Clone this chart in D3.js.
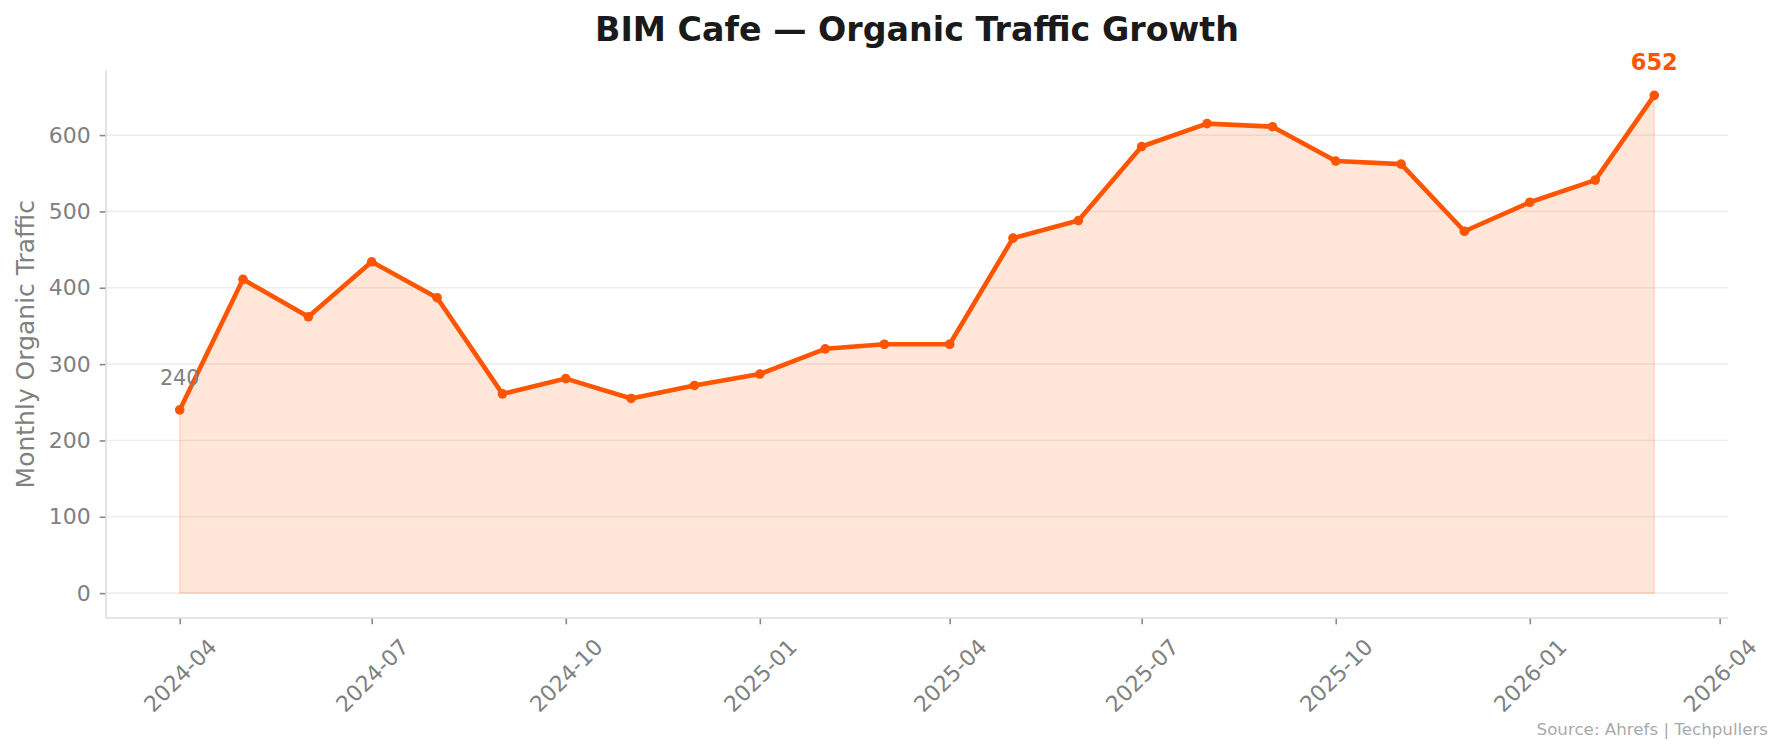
<!DOCTYPE html>
<html>
<head>
<meta charset="utf-8">
<script src="https://cdn.jsdelivr.net/npm/d3@7"></script>
<style>
  html, body { margin: 0; padding: 0; background: #ffffff; }
  svg { display: block; font-family: "DejaVu Sans", sans-serif; }
</style>
</head>
<body>
<svg id="chart" width="1784" height="753"></svg>
<script>
// ---- data ----
const months = ["2024-04","2024-05","2024-06","2024-07","2024-08","2024-09","2024-10","2024-11","2024-12",
  "2025-01","2025-02","2025-03","2025-04","2025-05","2025-06","2025-07","2025-08","2025-09","2025-10",
  "2025-11","2025-12","2026-01","2026-02","2026-03"];
const traffic = [240, 411, 362, 434, 387, 261, 281, 255, 272, 287, 320, 326, 326, 465, 488, 585, 615, 611, 566, 562, 474, 512, 541, 652];
const xTickLabels = ["2024-04","2024-07","2024-10","2025-01","2025-04","2025-07","2025-10","2026-01","2026-04"];
const yTickValues = [0, 100, 200, 300, 400, 500, 600];
const titleText = "BIM Cafe \u2014 Organic Traffic Growth";
const yLabelText = "Monthly Organic Traffic";
const sourceText = "Source: Ahrefs | Techpullers";

// ---- layout ----
const W = 1784, H = 753;
const m = { left: 106, right: 1728, top: 70.5, bottom: 618 };
const accent = "#FF5500";
const tickLen = 6.3;
const fsTick = 22;

const parse = d3.utcParse("%Y-%m");
const data = months.map((mo, i) => ({ date: parse(mo), value: traffic[i] }));

const svg = d3.select("#chart");

const x0 = data[0].date, x1 = data[data.length - 1].date;
const xPad = (x1 - x0) * 0.05;
const x = d3.scaleUtc()
  .domain([new Date(+x0 - xPad), new Date(+x1 + xPad)])
  .range([m.left, m.right]);

const yMax = d3.max(traffic), yMin = 0;
const yPad = (yMax - yMin) * 0.05;
const y = d3.scaleLinear()
  .domain([yMin - yPad, yMax + yPad])
  .range([m.bottom, m.top]);

// grid
svg.append("g").selectAll("line").data(yTickValues).join("line")
  .attr("x1", m.left).attr("x2", m.right)
  .attr("y1", d => y(d)).attr("y2", d => y(d))
  .attr("stroke", "#eeeeee").attr("stroke-width", 1.6);

// area fill
const area = d3.area().x(d => x(d.date)).y0(y(0)).y1(d => y(d.value));
svg.append("path").datum(data)
  .attr("d", area)
  .attr("fill", accent).attr("fill-opacity", 0.15)
  .attr("stroke", accent).attr("stroke-opacity", 0.15).attr("stroke-width", 1.6);

// line
const line = d3.line().x(d => x(d.date)).y(d => y(d.value));
svg.append("path").datum(data)
  .attr("d", line)
  .attr("fill", "none").attr("stroke", accent)
  .attr("stroke-width", 4.6).attr("stroke-linejoin", "round").attr("stroke-linecap", "round");

svg.append("g").selectAll("circle").data(data).join("circle")
  .attr("cx", d => x(d.date)).attr("cy", d => y(d.value))
  .attr("r", 4.8).attr("fill", accent);

// y axis
const yAxis = d3.axisLeft(y).tickValues(yTickValues).tickSize(tickLen).tickPadding(9);
const gy = svg.append("g").attr("transform", `translate(${m.left},0)`).call(yAxis);
gy.select(".domain").remove();
gy.selectAll(".tick line").attr("stroke", "#888").attr("stroke-width", 1.6);
gy.selectAll(".tick text").attr("fill", "#808080").attr("font-size", fsTick)
  .attr("font-family", "DejaVu Sans");

// x axis
const xTicks = xTickLabels.map(s => parse(s));
const xAxis = d3.axisBottom(x).tickValues(xTicks).tickFormat(d3.utcFormat("%Y-%m"))
  .tickSize(tickLen).tickPadding(0);
const gx = svg.append("g").attr("transform", `translate(0,${m.bottom})`).call(xAxis);
gx.select(".domain").remove();
gx.selectAll(".tick line").attr("stroke", "#888").attr("stroke-width", 1.6);
gx.selectAll(".tick text")
  .attr("fill", "#808080").attr("font-size", fsTick).attr("font-family", "DejaVu Sans")
  .attr("text-anchor", "middle").attr("dy", "0.35em")
  .each(function () {
    const t = d3.select(this);
    const w = this.getComputedTextLength();
    const h = fsTick * 0.73;
    const half = (w + h) * Math.SQRT1_2 / 2;
    t.attr("y", 0)
     .attr("transform", `translate(0,${tickLen + 13 + half}) rotate(-45)`);
  });

// spines
svg.append("line").attr("x1", m.left).attr("x2", m.left).attr("y1", m.top).attr("y2", m.bottom)
  .attr("stroke", "#dcdcdc").attr("stroke-width", 1.6);
svg.append("line").attr("x1", m.left).attr("x2", m.right).attr("y1", m.bottom).attr("y2", m.bottom)
  .attr("stroke", "#dcdcdc").attr("stroke-width", 1.6);

// annotations
const first = data[0], last = data[data.length - 1];
svg.append("text")
  .attr("x", x(first.date)).attr("y", y(first.value) - 25)
  .attr("text-anchor", "middle").attr("font-size", 20.8).attr("fill", "#808080")
  .text(first.value);
svg.append("text")
  .attr("x", x(last.date)).attr("y", y(last.value) - 25)
  .attr("text-anchor", "middle").attr("font-size", 22.5).attr("font-weight", "bold").attr("fill", accent)
  .text(last.value);

// title
svg.append("text")
  .attr("x", (m.left + m.right) / 2).attr("y", 41)
  .attr("text-anchor", "middle").attr("font-size", 33.3).attr("font-weight", "bold")
  .attr("fill", "#1a1a1a").text(titleText);

// y label
svg.append("text")
  .attr("transform", `translate(34,${(m.top + m.bottom) / 2}) rotate(-90)`)
  .attr("text-anchor", "middle").attr("font-size", 25).attr("fill", "#808080")
  .text(yLabelText);

// source
svg.append("text")
  .attr("x", 1768).attr("y", 735)
  .attr("text-anchor", "end").attr("font-size", 16.7).attr("fill", "#aaaaaa")
  .text(sourceText);
</script>
</body>
</html>
